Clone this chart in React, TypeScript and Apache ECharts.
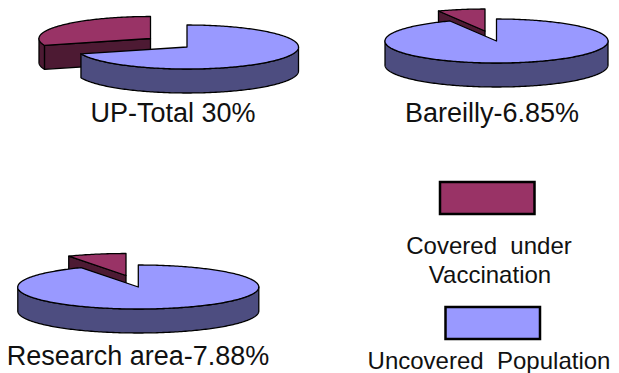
import React, { useEffect, useRef } from "react";
import * as echarts from "echarts";

const pieNames = ["UP-Total 30%", "Bareilly-6.85%", "Research area-7.88%"];
const coveredShare = [30, 6.85, 7.88];
const uncoveredShare = [70, 93.15, 92.12];
const legendCovered = ["Covered under", "Vaccination"];
const legendUncovered = ["Uncovered Population"];

const PURPLE = "#993366";
const PURPLE_DARK = "#4d1a33";
const BLUE = "#9999ff";
const BLUE_DARK = "#4d4d80";
const INK = "#000000";
const TEXT = "#111111";
const FONT = '"Liberation Sans", Arial, sans-serif';

// Disc geometry: centre of the large slice, apex of the pulled-out slice, radii, thickness.
const discs = [
  { cx: 187, cy: 47, wx: 150.5, wy: 38.5, rx: 111.5, ry: 22, depth: 24 },
  { cx: 496.5, cy: 41, wx: 485, wy: 31, rx: 111.5, ry: 22, depth: 24 },
  { cx: 138.3, cy: 287, wx: 126, wy: 275.5, rx: 120.5, ry: 22, depth: 24 },
];
const captions = [
  { x: 173, y: 113, size: 27 },
  { x: 492, y: 113, size: 27 },
  { x: 138, y: 356, size: 27 },
];

// Point on the rim; angles run clockwise from twelve o'clock, in degrees.
const rim = (cx: number, cy: number, rx: number, ry: number, deg: number) => {
  const a = (deg * Math.PI) / 180;
  return [cx + rx * Math.sin(a), cy - ry * Math.cos(a)];
};

const arc = (cx: number, cy: number, rx: number, ry: number, from: number, to: number) => {
  const pts: number[][] = [];
  const steps = Math.max(2, Math.ceil(Math.abs(to - from)));
  for (let i = 0; i <= steps; i++) pts.push(rim(cx, cy, rx, ry, from + ((to - from) * i) / steps));
  return pts;
};

const poly = (points: number[][], fill: string) => ({
  type: "polygon",
  shape: { points },
  style: { fill, stroke: INK, lineWidth: 1.3, lineJoin: "round" },
});

// Side wall under the part of the rim that faces the viewer.
const wall = (cx: number, cy: number, rx: number, ry: number, depth: number, from: number, to: number, fill: string) => {
  const a = Math.max(from, 90);
  const b = Math.min(to, 270);
  if (b <= a) return [];
  const top = arc(cx, cy, rx, ry, a, b);
  const bottom = arc(cx, cy + depth, rx, ry, b, a);
  return [poly([...top, ...bottom], fill)];
};

function drawPie(params: any, api: any) {
  const d = discs[params.dataIndex];
  const covered = (api.value(0) / (api.value(0) + api.value(1))) * 360;
  const start = 360 - covered;

  // The pulled-out slice goes first so that the large slice overlaps it.
  const edge = rim(d.wx, d.wy, d.rx, d.ry, start);
  const cut = poly(
    [[d.wx, d.wy], edge, [edge[0], edge[1] + d.depth], [d.wx, d.wy + d.depth]],
    PURPLE_DARK,
  );
  const sliceWall = wall(d.wx, d.wy, d.rx, d.ry, d.depth, start, 360, PURPLE_DARK);
  const sliceTop = poly([[d.wx, d.wy], ...arc(d.wx, d.wy, d.rx, d.ry, start, 360)], PURPLE);

  const mainWall = wall(d.cx, d.cy, d.rx, d.ry, d.depth, 0, start, BLUE_DARK);
  const mainTop = poly([[d.cx, d.cy], ...arc(d.cx, d.cy, d.rx, d.ry, 0, start)], BLUE);

  return {
    type: "group",
    children: [cut, ...sliceWall, sliceTop, ...mainWall, mainTop],
  };
}

const label = (text: string, x: number, y: number, size: number) => ({
  type: "text",
  x,
  y,
  style: { text, fill: TEXT, font: `${size}px ${FONT}`, textAlign: "center", textVerticalAlign: "middle" },
});

const swatch = (x: number, y: number, width: number, height: number, fill: string) => ({
  type: "rect",
  shape: { x, y, width, height },
  style: { fill, stroke: INK, lineWidth: 2.5 },
});

export default function App() {
  const ref = useRef<HTMLDivElement>(null);

  useEffect(() => {
    const chart = echarts.init(ref.current!, null, { renderer: "svg" });
    chart.setOption({
      animation: false,
      backgroundColor: "#ffffff",
      series: [
        {
          type: "custom",
          coordinateSystem: "none",
          silent: true,
          clip: false,
          renderItem: drawPie,
          data: pieNames.map((name, i) => ({ name, value: [coveredShare[i], uncoveredShare[i]] })),
        },
      ],
      graphic: [
        ...pieNames.map((name, i) => label(name, captions[i].x, captions[i].y, captions[i].size)),
        swatch(440, 182, 94.5, 32, PURPLE),
        label(legendCovered[0].replace(" ", "\u00a0\u00a0"), 489, 245, 24),
        label(legendCovered[1], 490, 274, 24),
        swatch(445.5, 307, 94.5, 32, BLUE),
        label(legendUncovered[0].replace(" ", "\u00a0\u00a0"), 489, 360, 24),
      ],
    });
    return () => chart.dispose();
  }, []);

  return <div ref={ref} style={{ position: "absolute", left: 0, top: 0, width: 619, height: 373 }} />;
}
